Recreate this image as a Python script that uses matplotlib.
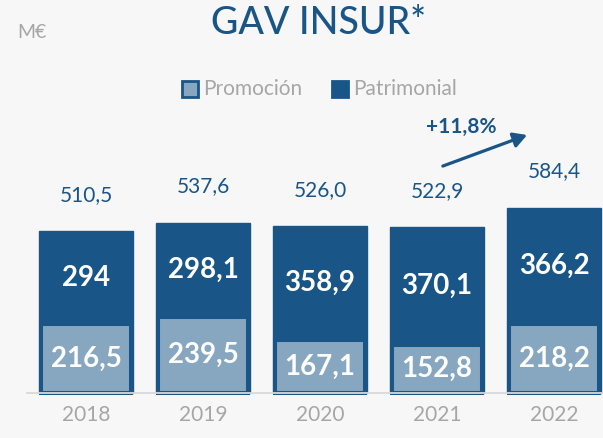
import matplotlib
matplotlib.use("Agg")
import matplotlib.pyplot as plt
import numpy as np

# data (M€)
years = ["2018", "2019", "2020", "2021", "2022"]
promocion = [216.5, 239.5, 167.1, 152.8, 218.2]
patrimonial = [294, 298.1, 358.9, 370.1, 366.2]
totals = [510.5, 537.6, 526.0, 522.9, 584.4]
promo_labels = ["216,5", "239,5", "167,1", "152,8", "218,2"]
patri_labels = ["294", "298,1", "358,9", "370,1", "366,2"]
total_labels = ["510,5", "537,6", "526,0", "522,9", "584,4"]

dark = "#195587"
light = "#87a6bf"
grey = "#a6a6a6"
bg = "#f7f7f7"

plt.rcParams["font.family"] = ["Lato", "DejaVu Sans"]

fig = plt.figure(figsize=(6.03, 4.38), dpi=100, facecolor=bg)
ax = fig.add_axes([0, 0, 1, 1])
ax.set_facecolor(bg)
ax.set_xlim(-0.735, 4.419)
ax.set_ylim(-142, 1240)
ax.axis("off")

x = np.arange(len(years))
promo = np.array(promocion)
patri = np.array(patrimonial)

# full bar in dark, promo part inset with dark border
ax.bar(x, promo + patri, width=0.80, color=dark, edgecolor=dark, linewidth=1, zorder=2)
ax.bar(x, promo, width=0.765, color=light, edgecolor=dark, linewidth=2.9, zorder=3)
ax.plot([-0.5, 4.5], [0, 0], color="#d9d9d9", lw=1.3, zorder=4)

for i in range(len(years)):
    ax.text(x[i], promo[i] / 2, promo_labels[i], ha="center", va="center",
            color="white", fontsize=20, fontweight="bold", zorder=5)
    ax.text(x[i], promo[i] + patri[i] / 2, patri_labels[i], ha="center", va="center",
            color="white", fontsize=20, fontweight="bold", zorder=5)
    ax.text(x[i], totals[i] + 115, total_labels[i], ha="center", va="center",
            color=dark, fontsize=15)
    ax.text(x[i], -69, years[i], ha="center", va="center", color=grey, fontsize=15)

# growth arrow
ax.annotate("", xy=(3.77, 814), xytext=(3.05, 716),
            arrowprops=dict(arrowstyle="-|>,head_length=0.8,head_width=0.45",
                            color=dark, lw=2.3, shrinkA=0, shrinkB=0))
ax.text(3.21, 839, "+11,8%", ha="center", va="center", color=dark,
        fontsize=15, fontweight="bold")

# title, unit, legend
fig.text(0.528, 1 - 24 / 438, "GAV INSUR*", ha="center", va="center",
         color=dark, fontsize=27, fontweight="medium")
fig.text(17 / 603, 1 - 32 / 438, "M€", ha="left", va="center", color=grey, fontsize=14)

leg_y = 1 - 89 / 438
for sx, label, face in [(182, "Promoción", light), (332, "Patrimonial", dark)]:
    fig.patches.append(plt.Rectangle((sx / 603, leg_y - 8 / 438), 16 / 603, 16 / 438,
                                     transform=fig.transFigure, facecolor=face,
                                     edgecolor=dark, linewidth=2))
    fig.text((sx + 21) / 603, leg_y, label, ha="left", va="center",
             color=grey, fontsize=15)

fig.savefig("out.png", dpi=100, facecolor=bg)
